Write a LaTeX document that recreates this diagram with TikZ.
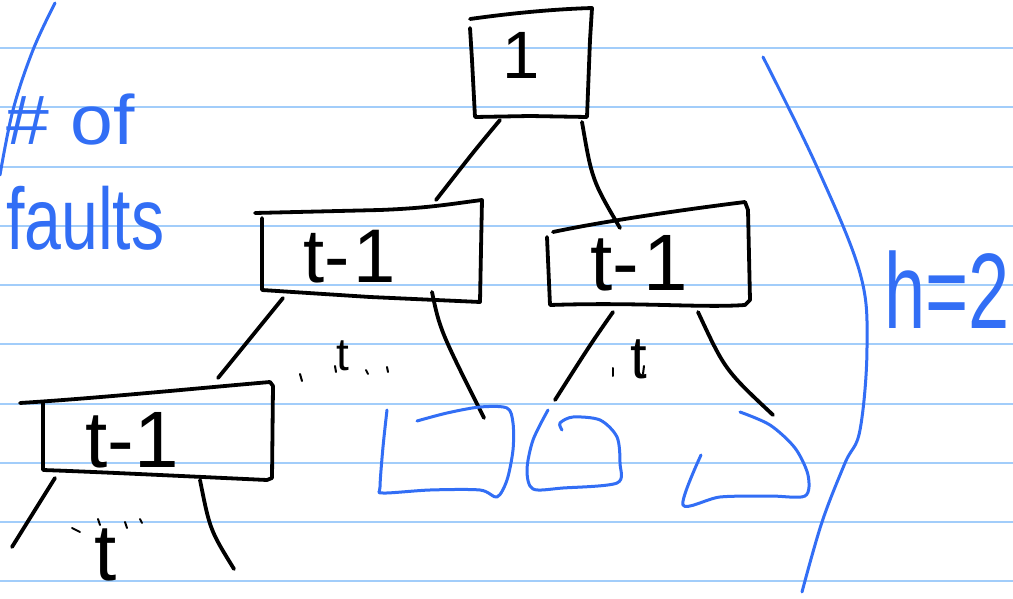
\documentclass[tikz,border=0pt]{standalone}
\usepackage{fontspec}
\setmainfont{Liberation Sans}
\definecolor{ruleblue}{RGB}{162,205,250}
\definecolor{penblue}{RGB}{50,110,245}
\begin{document}
\begin{tikzpicture}[x=1pt,y=-1pt,line cap=round,line join=round,
  ruleline/.style={draw=ruleblue,line width=2pt},
  inkline/.style={draw=black,line width=3.8pt},
  tickline/.style={draw=black,line width=2pt},
  penline/.style={draw=penblue,line width=3pt},
  inktext/.style={anchor=base west,inner sep=0pt,text=black},
  pentext/.style={anchor=base west,inner sep=0pt,text=penblue}]
\useasboundingbox (0,0) rectangle (1013,599);
\fill[white] (0,0) rectangle (1013,599);
% ruled paper
\foreach \k in {0,...,9}{
  \draw[ruleline] (0,{48.3+59.2*\k}) -- (1013,{48.3+59.2*\k});
}
% ---------- boxes ----------
\draw[inkline] (470,19) .. controls (520,12) and (560,9) .. (592,8) -- (590,40) -- (587,117) -- (530,116) -- (475,117) -- (472,60) -- (470,28);
\node[inktext,font=\fontsize{67}{67}\selectfont] (root) at (502,79) {1};

\draw[inkline] (255,213) -- (380,210) .. controls (430,208) and (450,204) .. (482,200) -- (481,250) -- (480,302) -- (370,297) -- (262,290) -- (262,218);
\node[inktext,font=\fontsize{76}{76}\selectfont] (ml) at (303,282) {t-\kern4pt1};

\draw[inkline] (553,232) .. controls (600,222) and (680,210) .. (745,202) -- (748,210) -- (750,300) -- (745,305) .. controls (700,308) and (640,302) .. (550,305) -- (547,237);
\node[inktext,font=\fontsize{80}{80}\selectfont] (mr) at (590,290) {t-\kern4pt1};

\draw[inkline] (20,403) .. controls (100,398) and (200,388) .. (270,382) -- (273,386) -- (272,478) -- (267,480) .. controls (180,476) and (100,472) .. (43,470) -- (43,402);
\node[inktext,font=\fontsize{80}{80}\selectfont] (bl) at (85,467) {t-\kern0pt1};

% ---------- connectors ----------
\coordinate (rootL) at (500,120);
\coordinate (mlTop) at (436,200);
\coordinate (rootR) at (582,122);
\coordinate (mrTop) at (620,228);
\draw[inkline] (rootL) .. controls (475,150) .. (mlTop);
\draw[inkline] (rootR) .. controls (592,180) .. (mrTop);

\coordinate (mlL) at (283,298);
\coordinate (mlLend) at (218,378);
\coordinate (mlR) at (432,292);
\coordinate (mlRend) at (484,418);
\draw[inkline] (mlL) -- (mlLend);
\draw[inkline] (mlR) .. controls (440,330) .. (mlRend);

\coordinate (mrL) at (613,312);
\coordinate (mrLend) at (555,400);
\coordinate (mrR) at (698,312);
\coordinate (mrRend) at (773,415);
\draw[inkline] (mrL) .. controls (590,345) .. (mrLend);
\draw[inkline] (mrR) .. controls (725,370) .. (mrRend);

\coordinate (blL) at (55,478);
\coordinate (blLend) at (12,547);
\coordinate (blR) at (200,480);
\coordinate (blRend) at (234,569);
\draw[inkline] (blL) .. controls (35,510) .. (blLend);
\draw[inkline] (blR) .. controls (210,530) .. (blRend);

% ---------- small t labels with dots ----------
\node[inktext,font=\fontsize{46}{46}\selectfont] (t1) at (336,370) {t};
\draw[tickline] (300,374) -- (302,381);
\draw[tickline] (335,366) -- (336,372);
\draw[tickline] (366,370) -- (368,374);
\draw[tickline] (387,367) -- (388,372);

\node[inktext,font=\fontsize{60}{60}\selectfont] (t2) at (630,378) {t};
\draw[tickline] (613,368) -- (613,376);
\draw[tickline] (644,366) -- (643,374);

\node[inktext,font=\fontsize{80}{80}\selectfont] (t3) at (94,580) {t};
\draw[tickline] (72,528) -- (80,532);
\draw[tickline] (98,519) -- (100,525);
\draw[tickline] (125,522) -- (127,528);
\draw[tickline] (140,519) -- (142,523);

% ---------- blue pen ----------
\draw[penline] plot[smooth,tension=0.6] coordinates {(55,3) (33,50) (13,110) (0,175)};
\node[pentext,font=\fontsize{70}{70}\selectfont] (nof) at (6,145) {\scalebox{1.1}[1]{\# of}};
\node[pentext,font=\fontsize{92}{92}\selectfont] (faults) at (6,250) {\scalebox{0.72}[0.95]{faults}};
\draw[penline] plot[smooth,tension=0.6] coordinates {(763,57) (817,167) (860,273) (867,347) (860,430) (845,463) (822,522) (802,592)};
\node[pentext,font=\fontsize{74}{74}\selectfont] (h2) at (884,328) {\scalebox{1}[1.45]{h=2}};

\draw[penline] plot[smooth,tension=0.5] coordinates {(417,421) (447,413) (480,407) (507,408) (513,423) (513,450) (507,480) (497,497) (480,490) (430,490) (383,493) (380,487) (383,447) (387,410)};
\draw[penline] plot[smooth,tension=0.5] coordinates {(548,410) (533,440) (527,470) (533,489) (563,488) (617,483) (620,463) (617,437) (600,420) (573,417) (560,423) (562,430)};
\draw[penline] plot[smooth,tension=0.5] coordinates {(701,455) (683,505) (720,497) (770,496) (805,496) (808,475) (795,448) (770,425) (740,412)};
\end{tikzpicture}
\end{document}
